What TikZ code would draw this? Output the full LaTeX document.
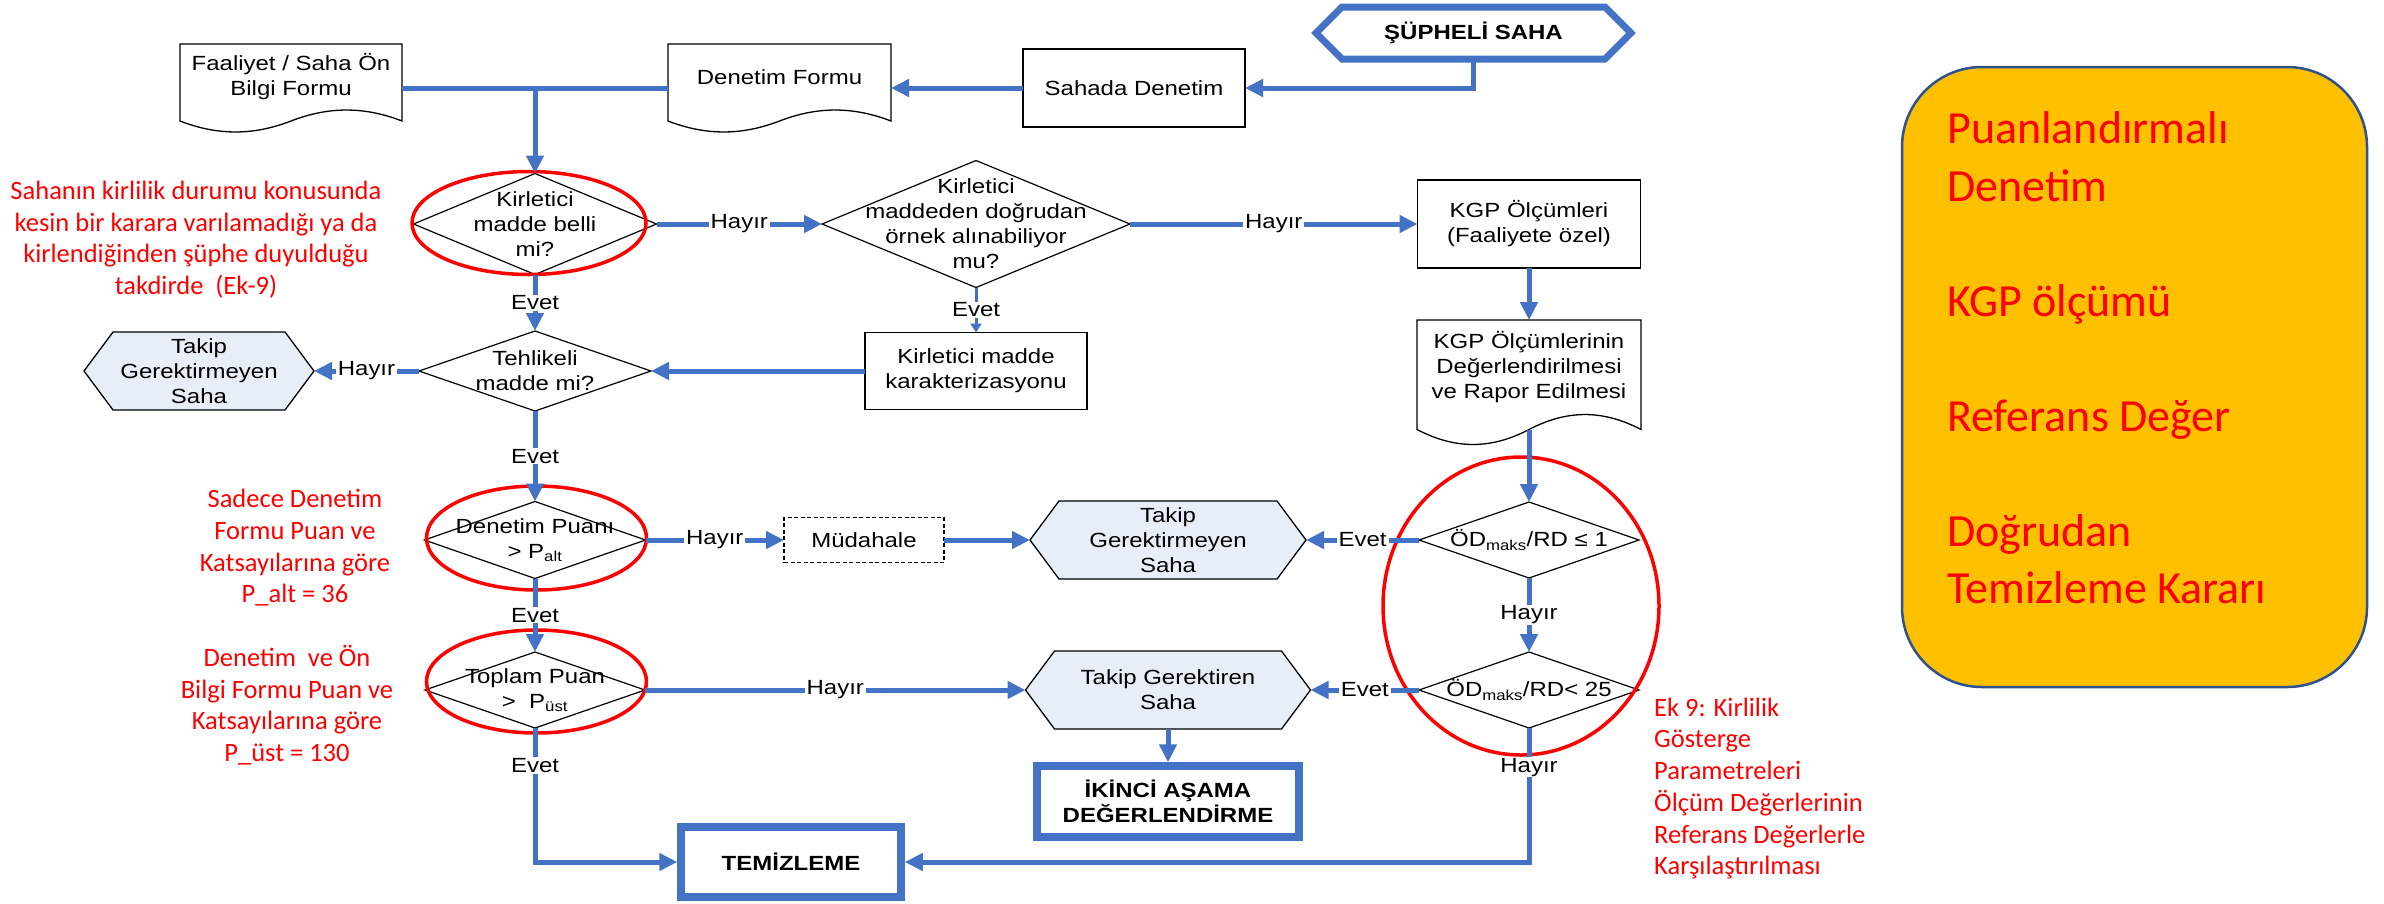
\documentclass[tikz,border=0pt]{standalone}
\usepackage{fontspec}
\setmainfont{Liberation Sans}[FakeStretch=1.17]
\newfontfamily\calib{Carlito}
\usetikzlibrary{shapes.geometric,arrows.meta,calc,backgrounds}
\definecolor{flowblue}{RGB}{68,114,196}
\definecolor{hexfill}{RGB}{232,238,247}
\definecolor{orangefill}{RGB}{255,192,0}
\definecolor{orangeline}{RGB}{47,82,143}
\definecolor{redmark}{RGB}{255,0,0}
\tikzset{
  base/.style={font=\fontsize{20.5}{25}\selectfont, align=center, inner sep=0pt, outer sep=0pt},
  plainbox/.style={base, rectangle, draw=black, line width=1.3pt, fill=white},
  ghost/.style={base, rectangle},
  decision/.style={diamond, draw=black, line width=1.2pt, inner sep=0pt, outer sep=0pt},
  endbox/.style={base, rectangle, draw=flowblue, line width=7.5pt, outer sep=3.75pt, fill=white, font=\fontsize{20.5}{25}\selectfont\bfseries},
  ring/.style={ellipse, draw=redmark, line width=3.5pt, inner sep=0pt, outer sep=0pt},
  note/.style={text=redmark, align=center, inner sep=0pt, font=\calib\fontsize{26.5}{31.7}\selectfont},
  flow/.style={draw=flowblue, line width=5pt},
  flowa/.style={flow, -{Triangle[length=18pt,width=17pt]}},
  flowsmall/.style={draw=flowblue, line width=3pt, -{Triangle[length=9pt,width=11pt]}},
  lab/.style={base, fill=white, inner xsep=2pt, inner ysep=1pt},
  docline/.style={draw=black, line width=1.3pt},
  hexline/.style={draw=black, line width=1.3pt, fill=hexfill},
  startline/.style={draw=flowblue, line width=7pt, fill=white},
}
% document outline: name, extra drop of corners below node south, wave amplitude
\newcommand\docoutline[3]{%
  \draw[docline] (#1.north west) -- (#1.north east) -- ($(#1.south east)+(0,#2)$)
    .. controls ($(#1.south east)!0.17!(#1.south west)+(0,{#2-1.33*#3})$) and ($(#1.south east)!0.33!(#1.south west)+(0,{#2-1.33*#3})$) .. ($(#1.south east)!0.5!(#1.south west)+(0,#2)$)
    .. controls ($(#1.south east)!0.67!(#1.south west)+(0,{#2+1.33*#3})$) and ($(#1.south east)!0.83!(#1.south west)+(0,{#2+1.33*#3})$) .. ($(#1.south west)+(0,#2)$)
    -- cycle;}
% hexagon outline: name, tip depth, style
\newcommand\hexoutline[3]{%
  \path[#3] (#1.west) -- ($(#1.north west)+(#2,0)$) -- ($(#1.north east)+(-#2,0)$) -- (#1.east)
    -- ($(#1.south east)+(-#2,0)$) -- ($(#1.south west)+(#2,0)$) -- cycle;}
\begin{document}
\begin{tikzpicture}[x=1pt,y=-1pt]
\useasboundingbox (0,0) rectangle (2384,903);
\begin{scope}[on background layer]
  \fill[white] (0,0) rectangle (2384,903);
\end{scope}

% orange legend
\node[rectangle, rounded corners=80pt, fill=orangefill, draw=orangeline, line width=2.5pt,
      minimum width=465pt, minimum height=620pt, inner sep=0pt] (orange) at (2134.5,377) {};
\node[anchor=west, align=left, inner sep=0pt, text=redmark, font=\calib\fontsize{46}{57.5}\selectfont]
  (otext) at (1947,358) {Puanlandırmalı\\Denetim\\[57.5pt]KGP ölçümü\\[57.5pt]Referans Değer\\[57.5pt]Doğrudan\\Temizleme Kararı};

% documents
\node[ghost, minimum width=222pt, minimum height=65pt] (faal) at (291,76.5) {Faaliyet / Saha Ön\\Bilgi Formu};
\docoutline{faal}{12}{11}
\node[ghost, minimum width=223pt, minimum height=66pt] (denform) at (779.5,77) {Denetim Formu};
\docoutline{denform}{11}{11}
\node[ghost, minimum width=224pt, minimum height=94pt] (kgp2) at (1529,367) {KGP Ölçümlerinin\\Değerlendirilmesi\\ve Rapor Edilmesi};
\docoutline{kgp2}{15.5}{15}
\coordinate (kgp2wave) at ($(kgp2.south)+(0,15.5)$);

% process boxes
\node[plainbox, minimum width=222pt, minimum height=78pt] (sahada) at (1134,88) {Sahada Denetim};
\node[plainbox, minimum width=223pt, minimum height=88pt] (kgp1) at (1529,224) {KGP Ölçümleri\\(Faaliyete özel)};
\node[plainbox, minimum width=222pt, minimum height=77pt] (karak) at (976,371) {Kirletici madde\\karakterizasyonu};
\node[plainbox, dash pattern=on 4pt off 2.5pt, line width=1.2pt, minimum width=160pt, minimum height=45pt] (mud) at (864,540) {Müdahale};

% terminal boxes
\node[endbox, minimum width=262pt, minimum height=71pt] (ikinci) at (1168,801.5) {İKİNCİ AŞAMA\\DEĞERLENDİRME};
\node[endbox, minimum width=220pt, minimum height=70pt] (temiz) at (791,862) {TEMİZLEME};

% hexagons
\node[ghost, minimum width=315pt, minimum height=52pt, font=\fontsize{20.5}{25}\selectfont\bfseries] (supheli) at (1473.5,33) {ŞÜPHELİ SAHA};
\node[ghost, minimum width=230pt, minimum height=78pt] (takip1) at (199,371) {Takip\\Gerektirmeyen\\Saha};
\node[ghost, minimum width=276pt, minimum height=78pt] (takip2) at (1168,540) {Takip\\Gerektirmeyen\\Saha};
\node[ghost, minimum width=285pt, minimum height=78pt] (takip3) at (1168,690) {Takip Gerektiren\\Saha};
\begin{scope}[on background layer]
  \hexoutline{supheli}{26}{startline}
  \hexoutline{takip1}{29}{hexline}
  \hexoutline{takip2}{29}{hexline}
  \hexoutline{takip3}{29}{hexline}
\end{scope}

% decisions
\node[decision, minimum width=243pt, minimum height=101pt] (d1) at (535,224) {};
\node[base] (t1) at (d1.center) {Kirletici\\madde belli\\mi?};
\node[decision, minimum width=308pt, minimum height=127pt] (d2) at (976,224) {};
\node[base] (t2) at (d2.center) {Kirletici\\maddeden doğrudan\\örnek alınabiliyor\\mu?};
\node[decision, minimum width=232pt, minimum height=80pt] (d3) at (535,371) {};
\node[base] (t3) at (d3.center) {Tehlikeli\\madde mi?};
\node[decision, minimum width=221pt, minimum height=77pt] (d4) at (535,540) {};
\node[base] (t4) at (d4.center) {Denetim Puanı\\> P\textsubscript{alt}};
\node[decision, minimum width=220pt, minimum height=76pt] (d5) at (535,690) {};
\node[base] (t5) at (d5.center) {Toplam Puan\\>\ \ P\textsubscript{üst}};
\node[decision, minimum width=220pt, minimum height=76pt] (d6) at (1529,540) {};
\node[base] (t6) at (d6.center) {ÖD\textsubscript{maks}/RD ≤ 1};
\node[decision, minimum width=220pt, minimum height=76pt] (d7) at (1529,690) {};
\node[base] (t7) at (d7.center) {ÖD\textsubscript{maks}/RD< 25};

% red rings
\node[ring, minimum width=234pt, minimum height=103pt] (e1) at (529,223) {};
\node[ring, minimum width=220pt, minimum height=104pt] (e2) at (536.5,538) {};
\node[ring, minimum width=220pt, minimum height=103pt] (e3) at (536.5,681.5) {};
\node[ring, minimum width=276pt, minimum height=298pt] (e4) at (1521,606) {};

% red notes
\node[note] (r1) at (196,239.5) {Sahanın kirlilik durumu konusunda\\kesin bir karara varılamadığı ya da\\kirlendiğinden şüphe duyulduğu\\takdirde\ \ (Ek-9)};
\node[note] (r2) at (295,548) {Sadece Denetim\\Formu Puan ve\\Katsayılarına göre\\P\_alt = 36};
\node[note] (r3) at (287,705) {Denetim\ \ ve Ön\\Bilgi Formu Puan ve\\Katsayılarına göre\\P\_üst = 130};
\node[note, anchor=west, align=left] (r4) at (1654,788.5) {Ek 9: Kirlilik\\Gösterge\\Parametreleri\\Ölçüm Değerlerinin\\Referans Değerlerle\\Karşılaştırılması};

% connectors
\coordinate (j1) at (535,88);
\draw[flow] (faal.east |- j1) -- (denform.west |- j1);
\draw[flowa] (j1) -- (d1.north);
\draw[flowa] (sahada.west) -- (sahada.west -| denform.east);
\draw[flowa] (supheli.south) |- (sahada.east);
\draw[flowa] (d1.east) -- node[lab]{Hayır} (d2.west);
\draw[flowa] (d2.east) -- node[lab]{Hayır} (kgp1.west);
\draw[flowa] (d1.south) -- node[lab]{Evet} (d3.north);
\draw[flowsmall] (d2.south) -- node[lab]{Evet} (karak.north);
\draw[flowa] (karak.west) -- (d3.east);
\draw[flowa] (d3.west) -- node[lab]{Hayır} (takip1.east);
\draw[flowa] (d3.south) -- node[lab]{Evet} (d4.north);
\draw[flowa] (d4.east) -- node[lab]{Hayır} (mud.west);
\draw[flowa] (mud.east) -- (takip2.west);
\draw[flowa] (d4.south) -- node[lab]{Evet} (d5.north);
\draw[flowa] (d5.east) -- node[lab]{Hayır} (takip3.west);
\draw[flowa] (d5.south) |- node[lab, pos=0.14]{Evet} (temiz.west);
\draw[flowa] (kgp1.south) -- (kgp2.north);
\draw[flowa] (kgp2wave) -- (d6.north);
\draw[flowa] (d6.west) -- node[lab]{Evet} (takip2.east);
\draw[flowa] (d6.south) -- node[lab]{Hayır} (d7.north);
\draw[flowa] (d7.west) -- node[lab]{Evet} (takip3.east);
\draw[flowa] (takip3.south) -- (ikinci.north);
\draw[flowa] (d7.south) |- node[lab, pos=0.146]{Hayır} (temiz.east);
\end{tikzpicture}
\end{document}
